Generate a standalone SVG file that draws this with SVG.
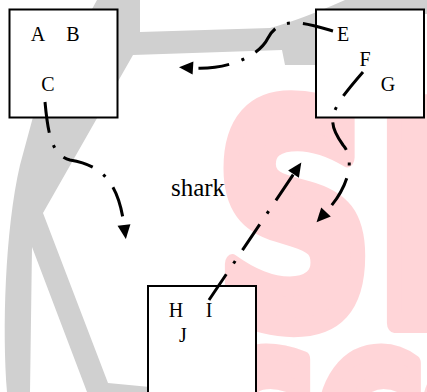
<svg xmlns="http://www.w3.org/2000/svg" width="427" height="392" viewBox="0 0 427 392">
<style>
.wm-gray{fill:#d0d0d0;stroke:none}
.wm-pink{fill:#ffd5d8;stroke:#ffd5d8;stroke-width:20;stroke-linejoin:round;font-family:"DejaVu Sans",sans-serif;font-weight:bold}
.box{fill:#ffffff;stroke:#000000;stroke-width:2}
.lbl{font-family:"Liberation Serif","Times New Roman",serif;font-size:20px;fill:#000000;text-anchor:middle}
.edge{fill:none;stroke:#000000;stroke-width:3;stroke-dasharray:31,13,3,13;stroke-linecap:butt}
</style>
<defs>
<marker id="ah" markerUnits="userSpaceOnUse" viewBox="0 0 14 13" markerWidth="14" markerHeight="13" refX="0" refY="6.5" orient="auto" overflow="visible">
<path d="M0,0 L14,6.5 L0,13 Z" fill="#000000"/>
</marker>
</defs>
<g id="watermark">
<path class="wm-gray" d="M97,0 L140,0 L140,32 L270,28 Q300,20 345,0 L427,0 L427,14 L424,14 L424,65 L285,65 L282,50 L133,55 L43,213 L108,383 L150,387 L150,392 L87,392 L32,247 L30,392 L7,392 C2,330 5,230 20,165 L33,117 Z"/>
<text class="wm-pink" transform="translate(215,323) scale(0.736,1)" font-size="300">S</text>
<text class="wm-pink" transform="translate(374,323) scale(0.736,1)" font-size="300">H</text>
<text class="wm-pink" transform="translate(214,512) scale(0.7,1)" font-size="216" style="stroke-width:16">S</text>
<text class="wm-pink" transform="translate(314,512) scale(0.7,1)" font-size="216" style="stroke-width:16">C</text>
<text class="wm-pink" transform="translate(417,512) scale(0.7,1)" font-size="216" style="stroke-width:16">O</text>
</g>
<g id="node-abc">
<rect class="box" x="9.5" y="9.5" width="108" height="108"/>
<text class="lbl" x="38" y="41">A</text>
<text class="lbl" x="73" y="41">B</text>
<text class="lbl" x="48" y="91">C</text>
</g>
<g id="node-efg">
<rect class="box" x="316" y="9.5" width="108" height="108"/>
<text class="lbl" x="343" y="41">E</text>
<text class="lbl" x="365" y="66">F</text>
<text class="lbl" x="388" y="91">G</text>
</g>
<g id="node-hij">
<rect class="box" x="148" y="286" width="108" height="110"/>
<text class="lbl" x="176" y="317">H</text>
<text class="lbl" x="209" y="317">I</text>
<text class="lbl" x="183" y="342">J</text>
</g>
<g id="label-shark">
<text class="lbl" x="198" y="196" style="font-size:25px">shark</text>
</g>
<g id="connectors">
<path class="edge" marker-end="url(#ah)" d="M45,102 C48,135 52,155 70,160 C100,165 118,180 124,225"/>
<path class="edge" marker-end="url(#ah)" d="M333,31 C305,23 280,15 268,38 C258,58 225,70 193,68"/>
<path class="edge" marker-end="url(#ah)" d="M363,72 C330,110 325,120 343,145 C356,160 348,188 326,212"/>
<path class="edge" marker-end="url(#ah)" d="M209,300 L293.5,174.2"/>
</g>
</svg>
